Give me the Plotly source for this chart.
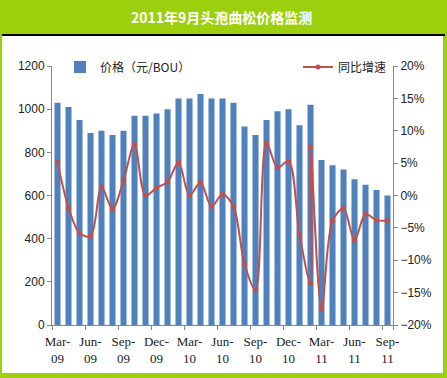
import plotly.graph_objects as go

months = ["Mar-09", "Apr-09", "May-09", "Jun-09", "Jul-09", "Aug-09", "Sep-09", "Oct-09", "Nov-09",
          "Dec-09", "Jan-10", "Feb-10", "Mar-10", "Apr-10", "May-10", "Jun-10", "Jul-10", "Aug-10",
          "Sep-10", "Oct-10", "Nov-10", "Dec-10", "Jan-11", "Feb-11", "Mar-11", "Apr-11", "May-11",
          "Jun-11", "Jul-11", "Aug-11", "Sep-11"]
price = [1030, 1010, 950, 890, 900, 880, 900, 970, 970, 980, 1000, 1050, 1050, 1070, 1050, 1050,
         1030, 920, 880, 950, 990, 1000, 925, 1020, 765, 740, 720, 675, 650, 625, 600]

# growth series (the source line has two points plotted at Feb-11)
growth_x = ["Mar-09", "Apr-09", "May-09", "Jun-09", "Jul-09", "Aug-09", "Sep-09", "Oct-09", "Nov-09",
            "Dec-09", "Jan-10", "Feb-10", "Mar-10", "Apr-10", "May-10", "Jun-10", "Jul-10", "Aug-10",
            "Sep-10", "Oct-10", "Nov-10", "Dec-10", "Jan-11", "Feb-11", "Feb-11", "Mar-11", "Apr-11",
            "May-11", "Jun-11", "Jul-11", "Aug-11", "Sep-11"]
growth = [5.2, -1.9, -5.8, -6.3, 1.3, -2.1, 2.3, 7.9, 0.0, 1.2, 2.1, 5.1, 0.0, 2.0, -1.7, 0.2,
          -1.7, -10.6, -14.6, 8.1, 4.3, 5.3, -6.0, -13.6, 7.5, -17.6, -3.9, -2.0, -6.9, -2.9, -3.8, -3.9]

tick_months = ["Mar-09", "Jun-09", "Sep-09", "Dec-09", "Mar-10", "Jun-10", "Sep-10", "Dec-10",
               "Mar-11", "Jun-11", "Sep-11"]
tick_text = ["Mar-<br>09", "Jun-<br>09", "Sep-<br>09", "Dec-<br>09", "Mar-<br>10", "Jun-<br>10",
             "Sep-<br>10", "Dec-<br>10", "Mar-<br>11", "Jun-<br>11", "Sep-<br>11"]

title = "2011年9月头孢曲松价格监测"
bar_name = "价格（元/BOU）"
line_name = "同比增速"

W, H = 447, 378
L, R, T, B = 52, 393, 66, 325
GREEN = "#9DD00C"
CJK = "Noto Sans CJK SC"


def px_x(p):
    return (p - L) / (R - L)


def px_y(p):
    return (B - p) / (B - T)


fig = go.Figure()
fig.add_trace(go.Bar(x=months, y=price, name=bar_name, marker_color="#4F81BD",
                     marker_line_width=0, legend="legend", showlegend=True))
fig.add_trace(go.Scatter(x=growth_x, y=growth, name=line_name, yaxis="y2", mode="lines+markers",
                         line=dict(color="#C0504D", width=2, shape="spline", smoothing=0.9),
                         marker=dict(color="#C0504D", size=5, symbol="circle"),
                         legend="legend2", showlegend=True))

fig.update_layout(
    width=W, height=H,
    margin=dict(l=L, r=W - R, t=T, b=H - B, pad=0, autoexpand=False),
    paper_bgcolor=GREEN, plot_bgcolor="rgba(0,0,0,0)",
    bargap=0.45,
    showlegend=True,
    font=dict(family=CJK, size=12, color="#222222"),
    xaxis=dict(type="category", categoryorder="array", categoryarray=months,
               tickmode="array", tickvals=tick_months, ticktext=tick_text, tickangle=0,
               tickson="boundaries", ticks="outside", ticklen=4, tickcolor="#868686",
               ticklabelstandoff=4,
               showline=True, linecolor="#868686", linewidth=1, showgrid=False, automargin=False,
               tickfont=dict(family="Liberation Serif", size=13, color="#222222"),
               range=[-0.5, 30.5], fixedrange=True),
    yaxis=dict(range=[0, 1200], dtick=200, ticks="outside", ticklen=4, tickcolor="#868686",
               showline=True, linecolor="#868686", linewidth=1, showgrid=False, zeroline=False,
               automargin=False,
               tickfont=dict(family="Liberation Sans", size=12, color="#222222")),
    yaxis2=dict(range=[-20, 20], dtick=5, ticksuffix="%", overlaying="y", side="right",
                ticks="outside", ticklen=4, tickcolor="#868686", automargin=False,
                showline=True, linecolor="#868686", linewidth=1, showgrid=False, zeroline=False,
                tickfont=dict(family="Liberation Sans", size=12, color="#222222")),
    legend=dict(orientation="h", x=px_x(60), y=px_y(67), xanchor="left", yanchor="middle",
                bgcolor="rgba(0,0,0,0)", font=dict(family=CJK, size=12, color="#222222"),
                itemwidth=30),
    legend2=dict(orientation="h", x=px_x(298), y=px_y(67), xanchor="left", yanchor="middle",
                 bgcolor="rgba(0,0,0,0)", font=dict(family=CJK, size=12, color="#222222"),
                 itemwidth=30),
    shapes=[
        dict(type="rect", xref="paper", yref="paper", x0=px_x(2), x1=px_x(443),
             y0=px_y(373), y1=px_y(35), fillcolor="white", line=dict(width=0), layer="below"),
        dict(type="line", xref="paper", yref="paper", x0=px_x(2), x1=px_x(445),
             y0=px_y(35), y1=px_y(35), line=dict(color="black", width=2)),
    ],
    annotations=[
        dict(text="<b>" + title + "</b>", xref="paper", yref="paper", x=px_x(221), y=px_y(17),
             xanchor="center", yanchor="middle", showarrow=False,
             font=dict(family=CJK, size=14, color="white")),
    ],
)

fig.write_html("out.html", config={"displayModeBar": False},
               post_script="document.body.style.margin='0';document.body.style.overflow='hidden';")
